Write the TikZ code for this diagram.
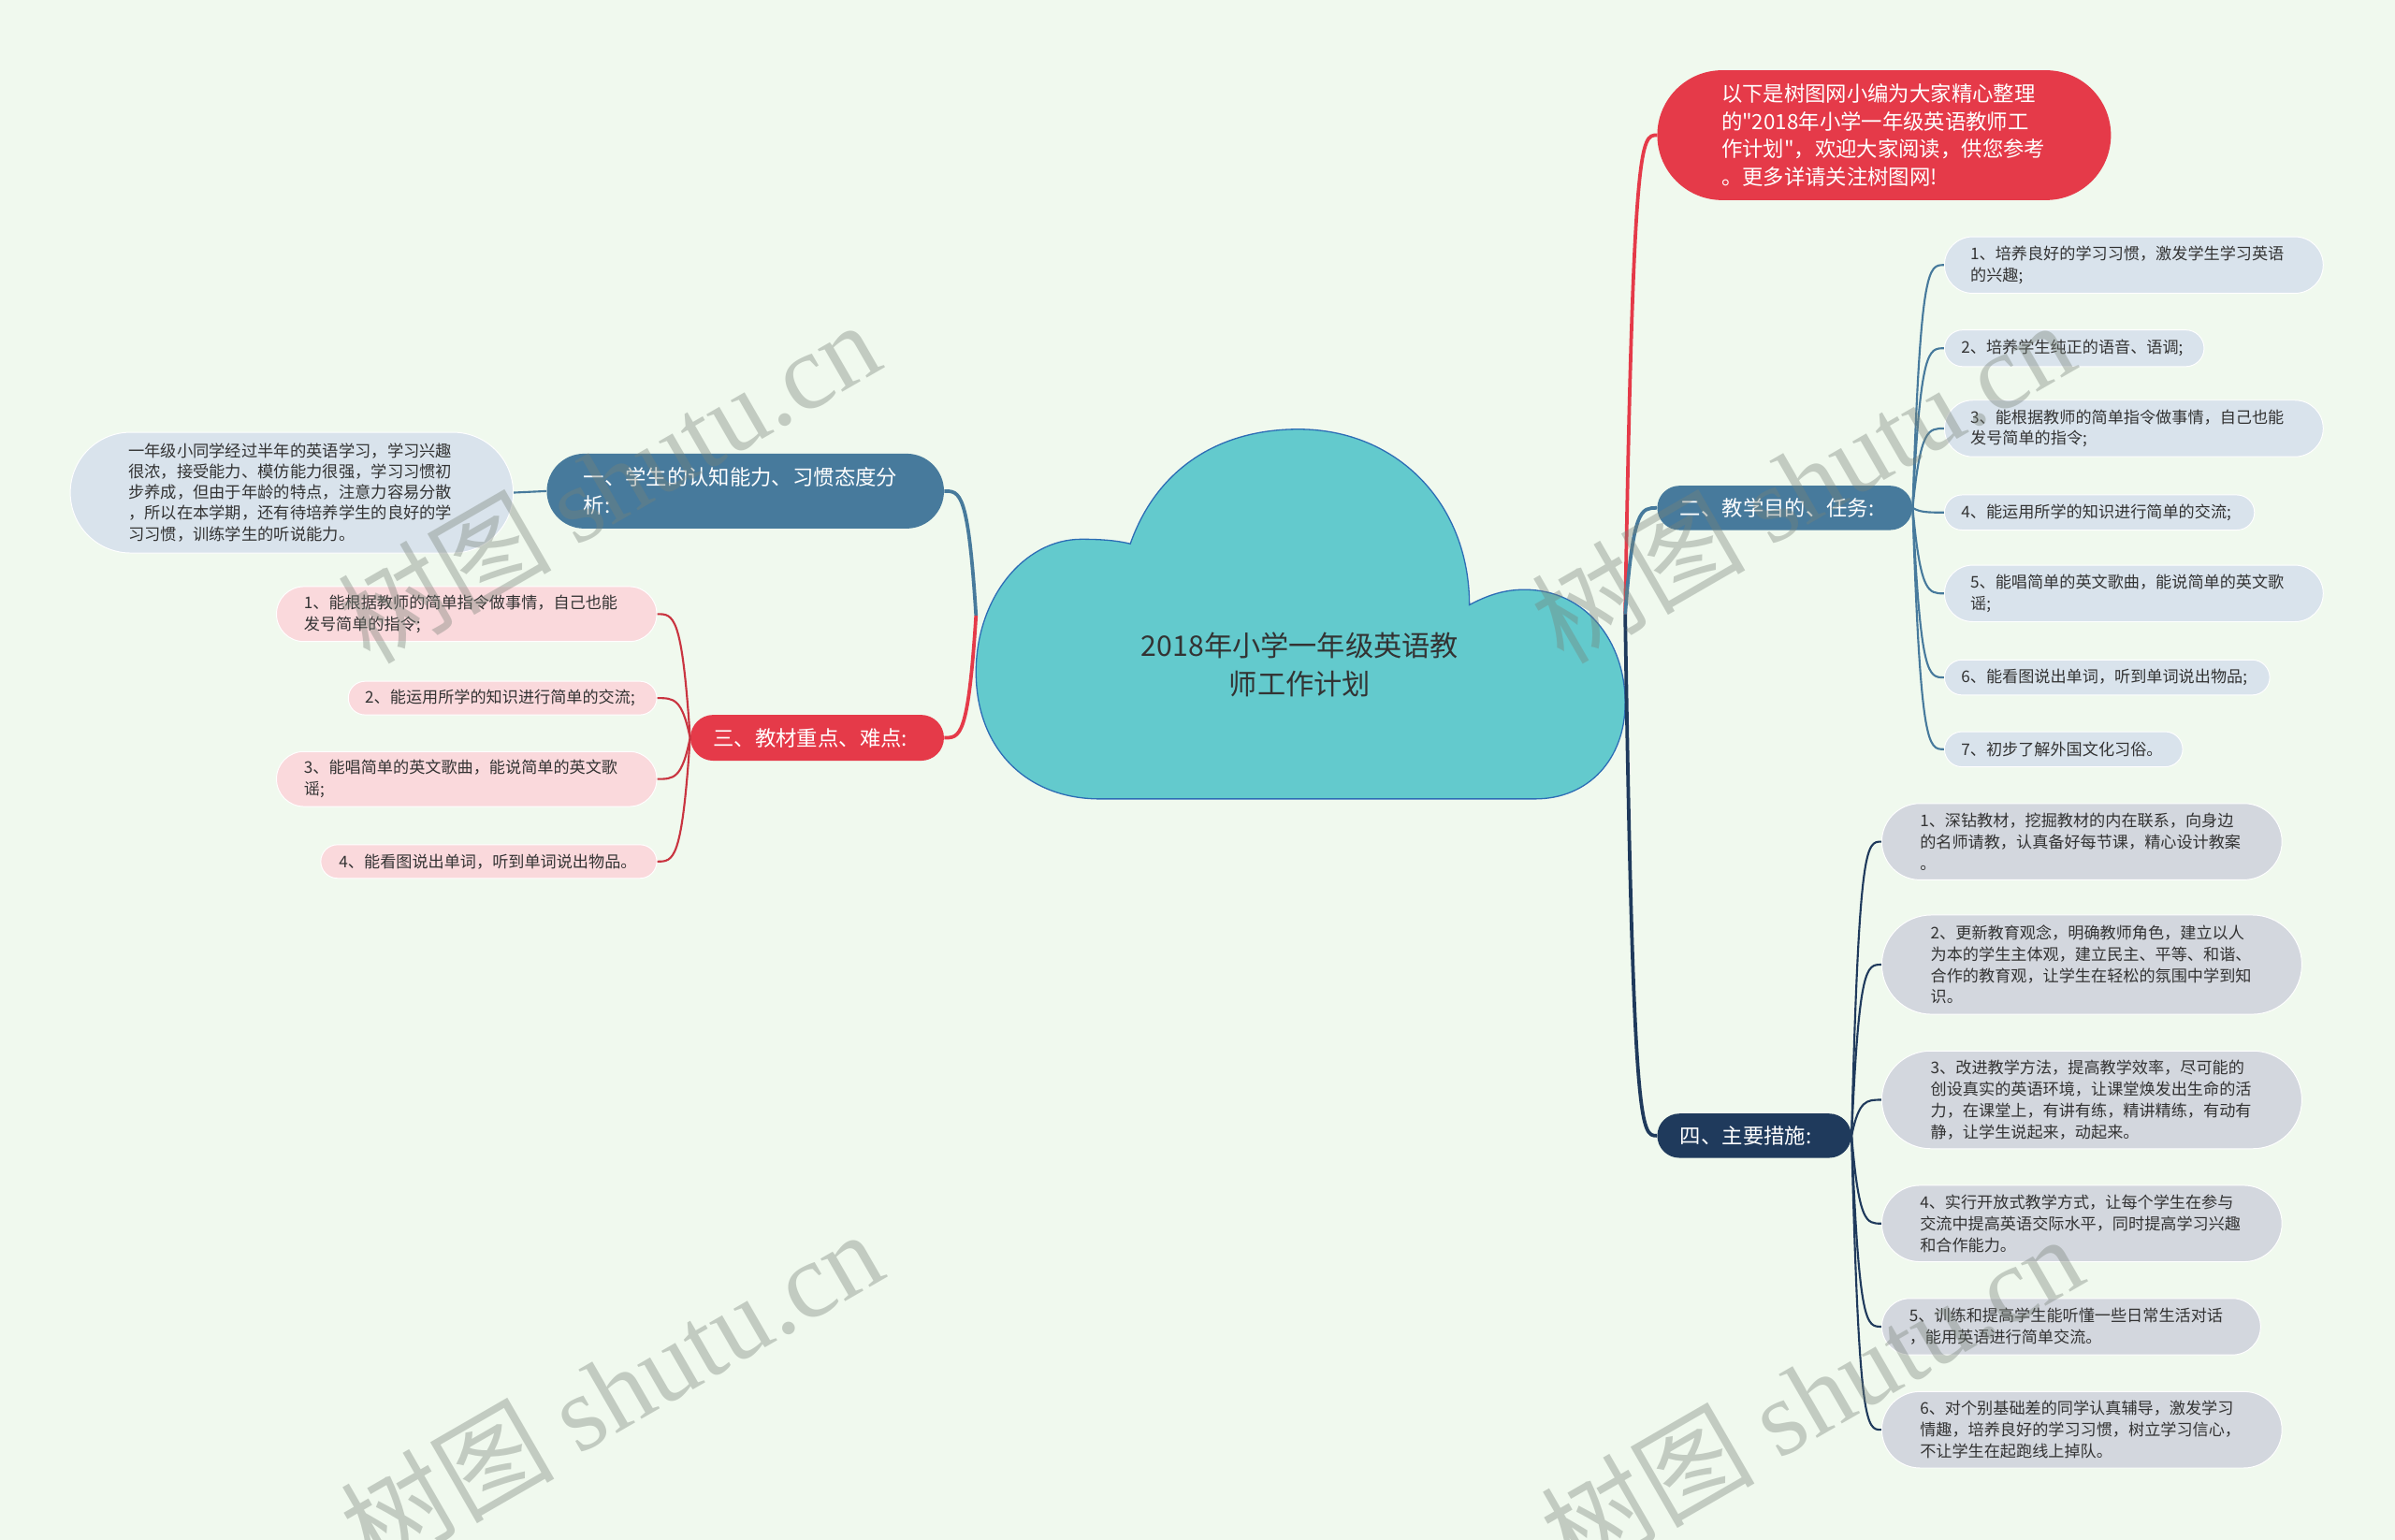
\documentclass[tikz,border=0pt]{standalone}
\usepackage{fontspec}
\setmainfont{Noto Sans CJK SC}
\newfontfamily\qf{Noto Sans CJK SC}
\newfontfamily\wmserif{Liberation Serif}
\usetikzlibrary{calc}
\definecolor{bgc}{HTML}{F0F9EE}
\definecolor{cloudfill}{HTML}{63CACD}
\definecolor{cloudline}{HTML}{2D6DB5}
\definecolor{redc}{HTML}{E53A49}
\definecolor{redl}{HTML}{C93440}
\definecolor{bluec}{HTML}{477A9C}
\definecolor{navyc}{HTML}{1F3A5C}
\definecolor{blueleaf}{HTML}{D9E3EC}
\definecolor{pinkleaf}{HTML}{FAD9DC}
\definecolor{greyleaf}{HTML}{D3D7DE}
\definecolor{leaftext}{HTML}{333333}
\definecolor{wmc}{RGB}{120,130,120}
\newcommand\mmlink[3]{\draw[#1] let \p1=(#2), \p2=(#3) in (\p1) .. controls ({\x1+0.25*(\x2-\x1)},\y2) and ({0.5*\x1+0.5*\x2},\y2) .. (\p2);}
\begin{document}
\begin{tikzpicture}[x=1pt,y=-1pt,
  mainnode/.style={rectangle, inner sep=0pt, align=left, text=white, font=\fontsize{13.7}{18}\selectfont},
  leaf/.style={rectangle, inner sep=0pt, align=left, text=leaftext, draw=white, line width=0.6pt, font=\fontsize{10.5}{14}\selectfont},
  trunk/.style={line width=2.3pt},
  twig/.style={line width=1.3pt},
  wm/.style={text=wmc, opacity=0.38, rotate=30, font=\fontsize{70}{70}\selectfont}]
\useasboundingbox[fill=bgc] (0,0) rectangle (1568,1008);

% cloud
\draw[fill=cloudfill, draw=cloudline, line width=0.8pt]
  (740,356) .. controls (758,305) and (800,281) .. (850,281)
  .. controls (915,281) and (962,330) .. (962,396)
  .. controls (975,389) and (986,386) .. (998,386)
  .. controls (1038,386) and (1064,420) .. (1064,460)
  .. controls (1064,497) and (1040,523) .. (1005,523)
  -- (720,523)
  .. controls (672,523) and (639,490) .. (639,440)
  .. controls (639,392) and (670,353) .. (708,353)
  .. controls (722,353) and (732,354) .. (740,356) -- cycle;
\node[text=leaftext, align=center, font=\fontsize{18.5}{25}\selectfont] (root) at (851,435) {2018年小学一年级英语教\\师工作计划};
\coordinate (jr) at (1064,402);
\coordinate (jl) at (639,403);

% nodes
\node[mainnode, fill=redc, minimum width=297pt, minimum height=85pt, rounded corners=42.5pt, text width=213pt] (rtop) at (1233.5,88.5) {以下是树图网小编为大家精心整理\\的{\qf"}2018年小学一年级英语教师工\\作计划{\qf"}，欢迎大家阅读，供您参考\\。更多详请关注树图网!};
\node[mainnode, fill=bluec, minimum width=167pt, minimum height=29pt, rounded corners=14.5pt, text width=137pt] (n2) at (1168.5,332.5) {二、教学目的、任务:};
\node[mainnode, fill=navyc, minimum width=127pt, minimum height=29pt, rounded corners=14.5pt, text width=97pt] (n4) at (1148.5,743.5) {四、主要措施:};
\node[mainnode, fill=bluec, minimum width=260pt, minimum height=49pt, rounded corners=24.5pt, text width=212pt] (n1) at (488,321.5) {一、学生的认知能力、习惯态度分\\析:};
\node[mainnode, fill=redc, minimum width=166pt, minimum height=30pt, rounded corners=15pt, text width=136pt] (n3) at (535,483) {三、教材重点、难点:};

% connectors, top level
\mmlink{trunk, redc}{jr}{rtop.west}
\mmlink{trunk, bluec}{jr}{n2.west}
\mmlink{trunk, navyc}{jr}{n4.west}
\mmlink{trunk, bluec}{jl}{n1.east}
\mmlink{trunk, redc}{jl}{n3.east}

% left leaf of n1
\node[leaf, fill=blueleaf, minimum width=290pt, minimum height=79pt, rounded corners=39.5pt, text width=214pt, font=\fontsize{10.6}{13.5}\selectfont] (l1) at (191,322.5) {一年级小同学经过半年的英语学习，学习兴趣\\很浓，接受能力、模仿能力很强，学习习惯初\\步养成，但由于年龄的特点，注意力容易分散\\，所以在本学期，还有待培养学生的良好的学\\习习惯，训练学生的听说能力。};
\draw[twig, bluec] (n1.west) -- (l1.east);

% n3 children
\node[leaf, fill=pinkleaf, minimum width=249pt, minimum height=36pt, rounded corners=18pt, text width=213pt] (p1) at (305.5,402) {1、能根据教师的简单指令做事情，自己也能\\发号简单的指令;};
\node[leaf, fill=pinkleaf, minimum width=202pt, minimum height=22pt, rounded corners=11pt, text width=180pt] (p2) at (329,457) {2、能运用所学的知识进行简单的交流;};
\node[leaf, fill=pinkleaf, minimum width=249pt, minimum height=36pt, rounded corners=18pt, text width=213pt] (p3) at (305.5,510) {3、能唱简单的英文歌曲，能说简单的英文歌\\谣;};
\node[leaf, fill=pinkleaf, minimum width=220pt, minimum height=22pt, rounded corners=11pt, text width=196pt] (p4) at (320,564) {4、能看图说出单词，听到单词说出物品。};
\foreach \c in {p1,p2,p3,p4} {\mmlink{twig, redl}{n3.west}{\c.east}}

% n2 children
\node[leaf, fill=blueleaf, minimum width=248pt, minimum height=37pt, rounded corners=18.5pt, text width=214pt] (b1) at (1397,173.5) {1、培养良好的学习习惯，激发学生学习英语\\的兴趣;};
\node[leaf, fill=blueleaf, minimum width=170pt, minimum height=24pt, rounded corners=12pt, text width=148pt] (b2) at (1358,228) {2、培养学生纯正的语音、语调;};
\node[leaf, fill=blueleaf, minimum width=248pt, minimum height=37pt, rounded corners=18.5pt, text width=214pt] (b3) at (1397,280.5) {3、能根据教师的简单指令做事情，自己也能\\发号简单的指令;};
\node[leaf, fill=blueleaf, minimum width=203pt, minimum height=23pt, rounded corners=11.5pt, text width=181pt] (b4) at (1374.5,335.5) {4、能运用所学的知识进行简单的交流;};
\node[leaf, fill=blueleaf, minimum width=248pt, minimum height=37pt, rounded corners=18.5pt, text width=214pt] (b5) at (1397,388.5) {5、能唱简单的英文歌曲，能说简单的英文歌\\谣;};
\node[leaf, fill=blueleaf, minimum width=213pt, minimum height=23pt, rounded corners=11.5pt, text width=191pt] (b6) at (1379.5,443.5) {6、能看图说出单词，听到单词说出物品;};
\node[leaf, fill=blueleaf, minimum width=156pt, minimum height=23pt, rounded corners=11.5pt, text width=134pt] (b7) at (1351,490.5) {7、初步了解外国文化习俗。};
\foreach \c in {b1,b2,b3,b4,b5,b6,b7} {\mmlink{twig, bluec}{n2.east}{\c.west}}

% n4 children
\node[leaf, fill=greyleaf, minimum width=262pt, minimum height=50pt, rounded corners=25pt, text width=212pt] (g1) at (1363,551) {1、深钻教材，挖掘教材的内在联系，向身边\\的名师请教，认真备好每节课，精心设计教案\\。};
\node[leaf, fill=greyleaf, minimum width=275pt, minimum height=65pt, rounded corners=32.5pt, text width=211pt] (g2) at (1369.5,631.5) {2、更新教育观念，明确教师角色，建立以人\\为本的学生主体观，建立民主、平等、和谐、\\合作的教育观，让学生在轻松的氛围中学到知\\识。};
\node[leaf, fill=greyleaf, minimum width=275pt, minimum height=64pt, rounded corners=32pt, text width=211pt] (g3) at (1369.5,720) {3、改进教学方法，提高教学效率，尽可能的\\创设真实的英语环境，让课堂焕发出生命的活\\力，在课堂上，有讲有练，精讲精练，有动有\\静，让学生说起来，动起来。};
\node[leaf, fill=greyleaf, minimum width=262pt, minimum height=50pt, rounded corners=25pt, text width=212pt] (g4) at (1363,801) {4、实行开放式教学方式，让每个学生在参与\\交流中提高英语交际水平，同时提高学习兴趣\\和合作能力。};
\node[leaf, fill=greyleaf, minimum width=248pt, minimum height=37pt, rounded corners=18.5pt, text width=212pt] (g5) at (1356,868.5) {5、训练和提高学生能听懂一些日常生活对话\\，能用英语进行简单交流。};
\node[leaf, fill=greyleaf, minimum width=262pt, minimum height=50pt, rounded corners=25pt, text width=212pt] (g6) at (1363,936) {6、对个别基础差的同学认真辅导，激发学习\\情趣，培养良好的学习习惯，树立学习信心，\\不让学生在起跑线上掉队。};
\foreach \c in {g1,g2,g3,g4,g5,g6} {\mmlink{twig, navyc}{n4.east}{\c.west}}

% watermarks
\node[wm] (wm1) at (398,315) {树图 {\wmserif shutu.cn}};
\node[wm] (wm2) at (400,910) {树图 {\wmserif shutu.cn}};
\node[wm] (wm3) at (1180,315) {树图 {\wmserif shutu.cn}};
\node[wm] (wm4) at (1186,913) {树图 {\wmserif shutu.cn}};
\end{tikzpicture}
\end{document}
